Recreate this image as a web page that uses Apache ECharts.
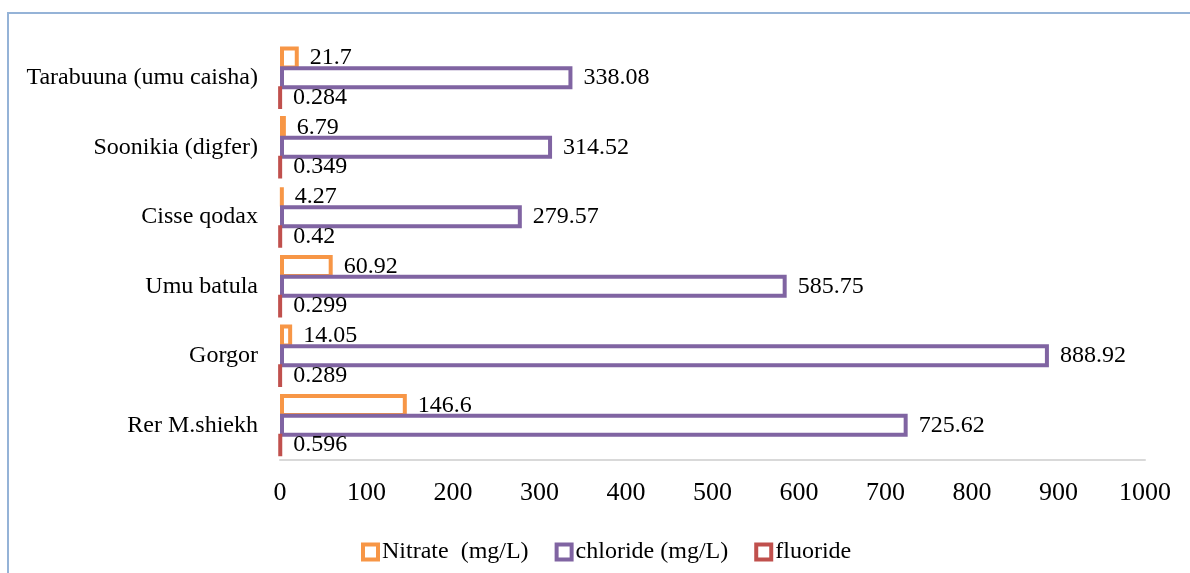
<!DOCTYPE html>
<html>
<head>
<meta charset="utf-8">
<script src="https://cdn.jsdelivr.net/npm/echarts@6/dist/echarts.min.js"></script>
<style>
  html, body { margin: 0; padding: 0; background: #fff; }
  #frame { position: absolute; left: 7px; top: 12px; width: 1200px; height: 600px;
           border-left: 2px solid #95B3D7; border-top: 2px solid #95B3D7; }
  #chart { position: absolute; left: 0; top: 0; width: 1190px; height: 573px; }
</style>
</head>
<body>
<div id="frame"></div>
<div id="chart"></div>
<script>
// sites, top to bottom as shown
const sites = ['Tarabuuna (umu caisha)', 'Soonikia (digfer)', 'Cisse qodax', 'Umu batula', 'Gorgor', 'Rer M.shiekh'];
const nitrate = [21.7, 6.79, 4.27, 60.92, 14.05, 146.6];
const chloride = [338.08, 314.52, 279.57, 585.75, 888.92, 725.62];
const fluoride = [0.284, 0.349, 0.42, 0.299, 0.289, 0.596];
const seriesNames = ['Nitrate  (mg/L)', 'chloride (mg/L)', 'fluoride'];
const colors = ['#F79646', '#8064A2', '#C0504D'];
const xTicks = [0, 1000, 100]; // min, max, step

const font = "'Liberation Serif', 'Times New Roman', serif";

function makeSeries(name, data, color) {
  return {
    name: name,
    type: 'bar',
    data: data,
    barWidth: 23,
    barGap: '-14%',
    itemStyle: { color: '#fff', borderColor: color, borderWidth: 4 },
    label: {
      show: true,
      position: 'right',
      distance: 11,
      color: '#000',
      fontFamily: font,
      fontSize: 24
    }
  };
}

const chart = echarts.init(document.getElementById('chart'));
chart.setOption({
  animation: false,
  backgroundColor: 'transparent',
  grid: { left: 280, right: 45, top: 43, bottom: 113, containLabel: false },
  legend: {
    data: seriesNames,
    icon: 'rect',
    left: 356,
    top: 535,
    itemWidth: 15,
    itemHeight: 15,
    itemGap: 26,
    itemStyle: { borderWidth: 4 },
    textStyle: { fontFamily: font, fontSize: 24, color: '#000', padding: [0, 0, 0, -1] }
  },
  xAxis: {
    type: 'value',
    min: xTicks[0],
    max: xTicks[1],
    interval: xTicks[2],
    splitLine: { show: false },
    axisTick: { show: false },
    axisLine: { show: true, lineStyle: { color: '#D9D9D9', width: 2 } },
    axisLabel: { fontFamily: font, fontSize: 26, color: '#000', margin: 20,
                 formatter: function (v) { return String(v); } }
  },
  yAxis: {
    type: 'category',
    data: sites,
    inverse: true,
    axisLine: { show: false },
    axisTick: { show: false },
    axisLabel: { fontFamily: font, fontSize: 24, color: '#000', margin: 22 }
  },
  series: [
    makeSeries(seriesNames[0], nitrate, colors[0]),
    makeSeries(seriesNames[1], chloride, colors[1]),
    makeSeries(seriesNames[2], fluoride, colors[2])
  ]
});
</script>
</body>
</html>
